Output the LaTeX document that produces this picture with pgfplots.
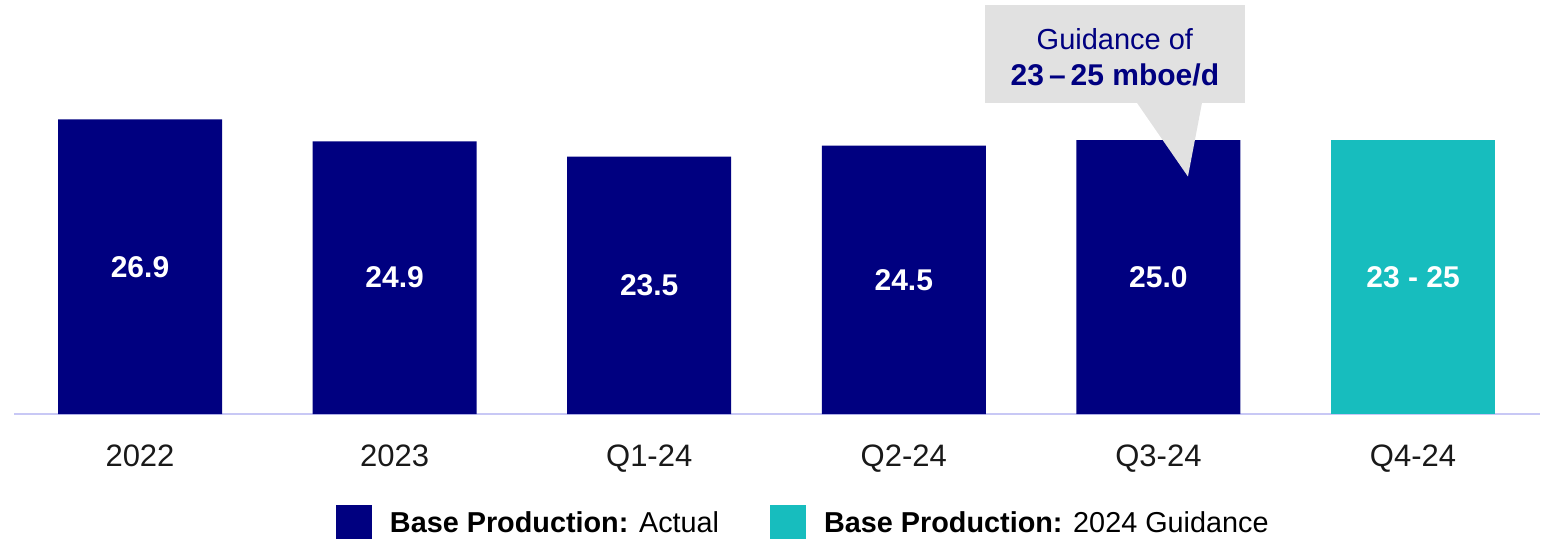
\documentclass[border=0pt]{standalone}
\usepackage{fontspec}
\setmainfont{Liberation Sans}
\usepackage{pgfplots}
\pgfplotsset{compat=1.18}
\definecolor{navy}{RGB}{0,0,128}
\definecolor{tealg}{RGB}{23,189,190}
\definecolor{callgray}{RGB}{225,225,225}
\definecolor{axlav}{RGB}{200,200,245}
\definecolor{ticktext}{RGB}{25,25,25}
\begin{document}
\begin{tikzpicture}
\begin{axis}[
  at={(0,0)}, anchor=south west,
  scale only axis, width=763pt, height=207pt,
  xmin=-0.4949, xmax=5.4988, ymin=0, ymax=37.80,
  axis x line=bottom, axis y line=none,
  x axis line style={-, draw=axlav, line width=1pt},
  xtick={0,1,2,3,4,5},
  xticklabels={2022,2023,Q1-24,Q2-24,Q3-24,Q4-24},
  major tick length=0pt, xtick style={draw=none},
  xticklabel style={anchor=base, yshift=-26pt, text=ticktext, font=\fontsize{15.5}{18}\selectfont},
  ytick=\empty,
  clip=false,
  ybar, bar width=82pt,
  legend cell align=left,
  legend columns=2,
  legend style={at={(0.211,-0.261)}, anchor=west, draw=none, fill=none,
    inner sep=0pt, outer sep=0pt,
    font=\fontsize{14.4}{16}\selectfont,
    nodes={inner sep=0pt, text depth=0pt},
    /tikz/every odd column/.append style={column sep=9pt},
    /tikz/every even column/.append style={column sep=25.5pt}},
]
\addplot[fill=navy, draw=none, bar shift=0pt,
  legend image code/.code={\fill[navy] (0pt,-8.5pt) rectangle (18pt,8.5pt);}]
  coordinates {(0,26.9) (1,24.9) (2,23.5) (3,24.5) (4,25.0)};
\addlegendentry{\textbf{Base Production:} Actual}
\addplot[fill=tealg, draw=none, bar shift=0pt,
  legend image code/.code={\fill[tealg] (0pt,-8.5pt) rectangle (18pt,8.5pt);}]
  coordinates {(5,25.0)};
\addlegendentry{\textbf{Base Production:} 2024 Guidance}

\begin{scope}[every node/.style={text=white, font=\bfseries\fontsize{15}{18}\selectfont}]
\node at (axis cs:0,13.45) {26.9};
\node at (axis cs:1,12.45) {24.9};
\node at (axis cs:2,11.75) {23.5};
\node at (axis cs:3,12.25) {24.5};
\node at (axis cs:4,12.5) {25.0};
\node at (axis cs:5,12.5) {23 - 25};
\end{scope}

\fill[callgray] (axis cs:3.319,28.36) rectangle (axis cs:4.340,37.33);
\fill[callgray] (axis cs:3.916,28.40) -- (axis cs:4.171,28.40) -- (axis cs:4.116,21.68) -- cycle;
\node[anchor=base, text=navy, font=\fontsize{14.5}{17}\selectfont] at (axis cs:3.829,33.30) {Guidance of};
\node[anchor=base, text=navy, font=\bfseries\fontsize{15}{17}\selectfont] at (axis cs:3.829,30.01) {23\,–\,25 mboe/d};
\end{axis}
\path[use as bounding box] (-7pt,-62.5pt) rectangle (768pt,207pt);
\end{tikzpicture}
\end{document}
